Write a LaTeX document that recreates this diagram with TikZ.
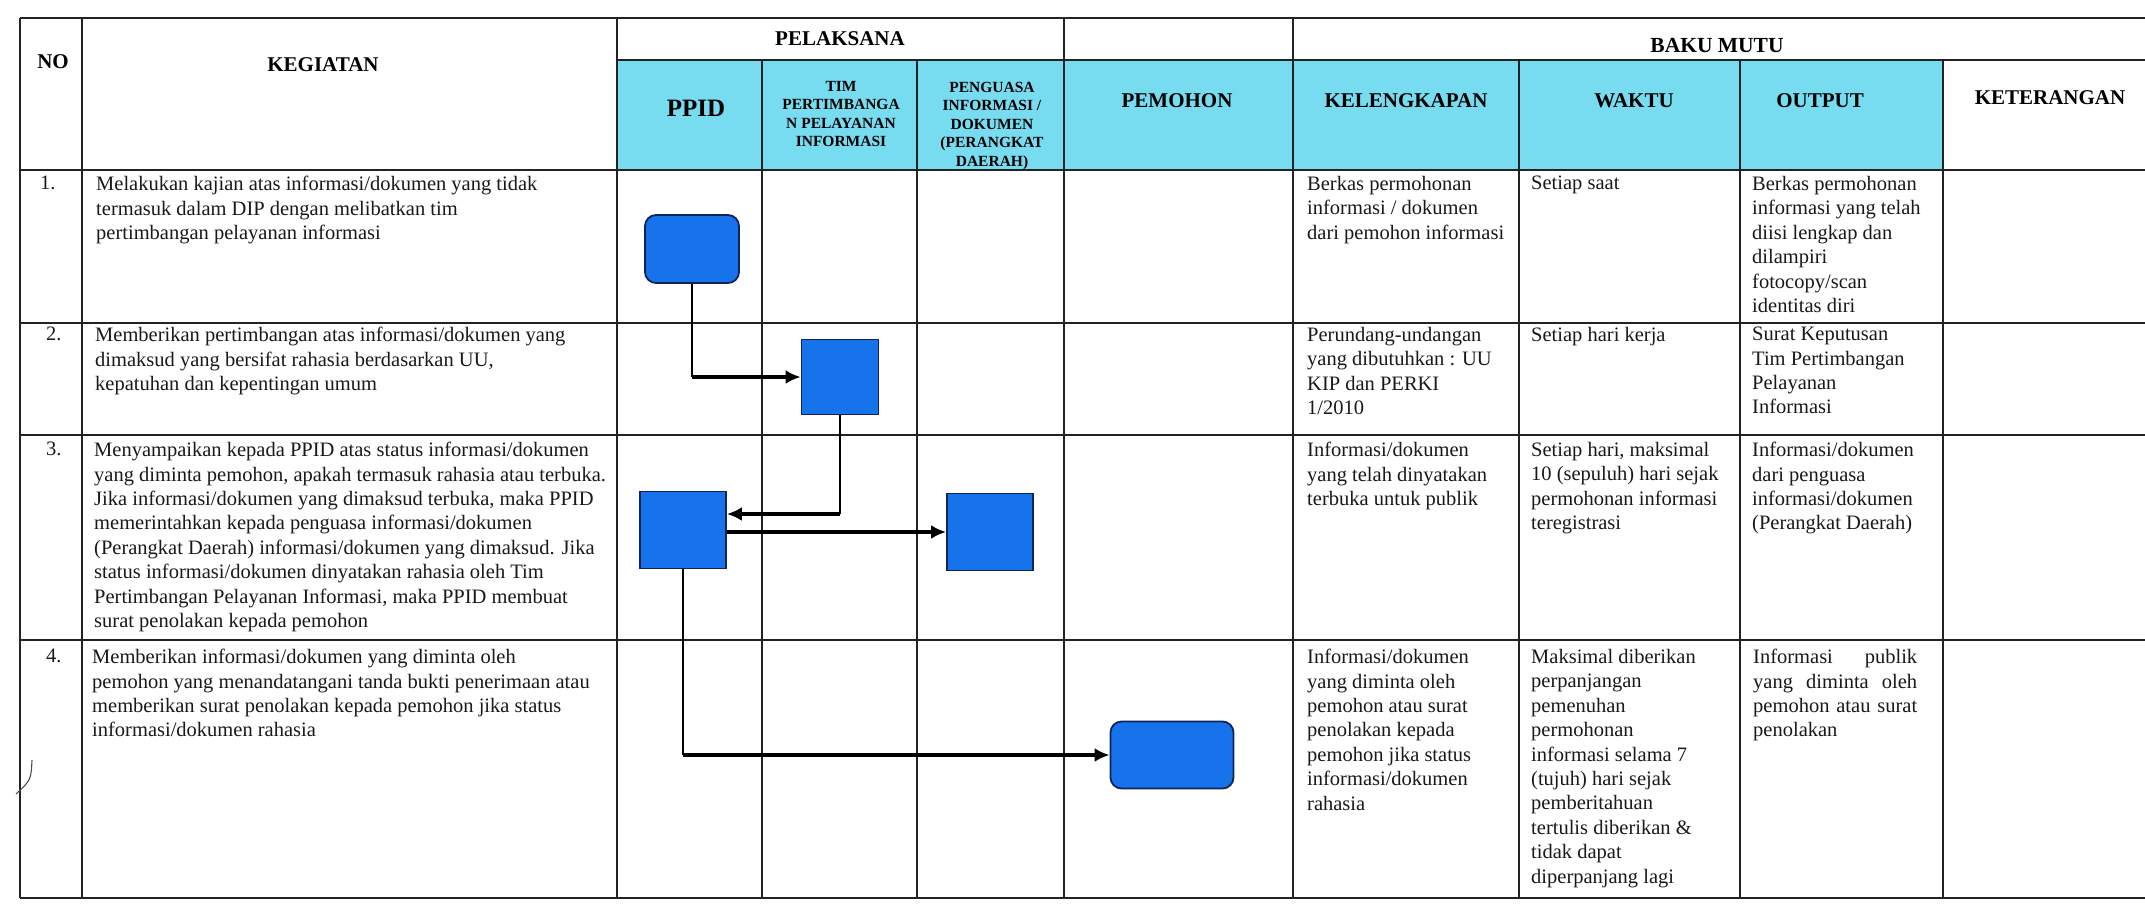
\documentclass[tikz,border=0pt]{standalone}
\usepackage{fontspec}
\setmainfont{Liberation Serif}
\usetikzlibrary{arrows.meta,calc,positioning}

\definecolor{hdrcyan}{RGB}{120,220,240}
\definecolor{boxblue}{RGB}{22,115,235}
\definecolor{boxedge}{RGB}{16,36,88}
\definecolor{rulegray}{RGB}{35,35,35}

\tikzset{
  tblline/.style={line width=1.6pt, draw=rulegray},
  act/.style={draw=boxedge, line width=1.8pt, fill=boxblue, inner sep=0pt},
  actround/.style={act, rounded corners=11pt},
  flowthin/.style={line width=1.4pt},
  flowthick/.style={line width=3.4pt, -{Latex[length=15pt,width=14pt]}},
  body/.style={anchor=north west, inner sep=0pt, align=left, text=black!90,
    font=\fontsize{20.5}{24.4}\selectfont},
  hdr/.style={inner sep=0pt, font=\bfseries\fontsize{21}{24}\selectfont},
  hdrsmall/.style={inner sep=0pt, align=center, font=\bfseries\fontsize{15.5}{18.5}\selectfont},
}

\begin{document}
\begin{tikzpicture}[x=1pt,y=-1pt,>=Stealth]
  \useasboundingbox (0,0) rectangle (2145,903);
  % header fill
  \fill[hdrcyan] (617,60) rectangle (1943,170);
  % table rules
  \draw[tblline, line width=2pt] (20,18) -- (2145,18);
  \draw[tblline, line width=2pt] (617,60) -- (2145,60);
  \foreach \y in {170,323,435,640,898}
    \draw[tblline, line width=2pt] (20,\y) -- (2145,\y);
  \foreach \x in {20,82,617,1064,1293}
    \draw[tblline] (\x,18) -- (\x,898);
  \foreach \x in {762,917,1519,1740,1943}
    \draw[tblline] (\x,60) -- (\x,898);
  % scan mark on the left edge
  \draw[line width=1.1pt, black!70] (32,760) .. controls (31,780) .. (16,794);

  % headers
  \node[hdr] (hno) at (53,62) {NO};
  \node[hdr] (hkeg) at (323,65) {KEGIATAN};
  \node[hdr] (hpel) at (840,39) {PELAKSANA};
  \node[hdr, font=\bfseries\fontsize{21.5}{24}\selectfont] (hbaku) at (1717,45) {BAKU MUTU};
  \node[hdr, font=\bfseries\fontsize{25}{28}\selectfont] (hppid) at (696,108) {PPID};
  \node[hdrsmall] (htim) at (841,114) {TIM\\PERTIMBANGA\\N PELAYANAN\\INFORMASI};
  \node[hdrsmall] (hpeng) at (992,126) {PENGUASA\\INFORMASI /\\DOKUMEN\\(PERANGKAT\\DAERAH)};
  \node[hdr] (hpem) at (1177,101) {PEMOHON};
  \node[hdr] (hkel) at (1406,101) {KELENGKAPAN};
  \node[hdr] (hwak) at (1634,101) {WAKTU};
  \node[hdr] (hout) at (1820,101) {OUTPUT};
  \node[hdr] (hket) at (2050,98) {KETERANGAN};

  % row 1
  \node[body] (no1) at (40,176) {1.};
  \node[body] (keg1) at (96,176) {Melakukan kajian atas informasi/dokumen yang tidak\\termasuk dalam DIP dengan melibatkan tim\\pertimbangan pelayanan informasi};
  \node[body] (kel1) at (1307,176) {Berkas permohonan\\informasi / dokumen\\dari pemohon informasi};
  \node[body] (wak1) at (1531,176) {Setiap saat};
  \node[body] (out1) at (1752,176) {Berkas permohonan\\informasi yang telah\\diisi lengkap dan\\dilampiri\\fotocopy/scan\\identitas diri};
  % row 2
  \node[body] (no2) at (46,327) {2.};
  \node[body] (keg2) at (95,327) {Memberikan pertimbangan atas informasi/dokumen yang\\dimaksud yang bersifat rahasia berdasarkan UU,\\kepatuhan dan kepentingan umum};
  \node[body] (kel2) at (1307,327) {Perundang-undangan\\yang dibutuhkan : UU\\KIP dan PERKI\\1/2010};
  \node[body] (wak2) at (1531,327) {Setiap hari kerja};
  \node[body] (out2) at (1752,327) {Surat Keputusan\\Tim Pertimbangan\\Pelayanan\\Informasi};
  % row 3
  \node[body] (no3) at (46,442) {3.};
  \node[body] (keg3) at (94,442) {Menyampaikan kepada PPID atas status informasi/dokumen\\yang diminta pemohon, apakah termasuk rahasia atau terbuka.\\Jika informasi/dokumen yang dimaksud terbuka, maka PPID\\memerintahkan kepada penguasa informasi/dokumen\\(Perangkat Daerah) informasi/dokumen yang dimaksud. Jika\\status informasi/dokumen dinyatakan rahasia oleh Tim\\Pertimbangan Pelayanan Informasi, maka PPID membuat\\surat penolakan kepada pemohon};
  \node[body] (kel3) at (1307,442) {Informasi/dokumen\\yang telah dinyatakan\\terbuka untuk publik};
  \node[body] (wak3) at (1531,442) {Setiap hari, maksimal\\10 (sepuluh) hari sejak\\permohonan informasi\\teregistrasi};
  \node[body] (out3) at (1752,442) {Informasi/dokumen\\dari penguasa\\informasi/dokumen\\(Perangkat Daerah)};
  % row 4
  \node[body] (no4) at (46,649) {4.};
  \node[body] (keg4) at (92,649) {Memberikan informasi/dokumen yang diminta oleh\\pemohon yang menandatangani tanda bukti penerimaan atau\\memberikan surat penolakan kepada pemohon jika status\\informasi/dokumen rahasia};
  \node[body] (kel4) at (1307,649) {Informasi/dokumen\\yang diminta oleh\\pemohon atau surat\\penolakan kepada\\pemohon jika status\\informasi/dokumen\\rahasia};
  \node[body] (wak4) at (1531,649) {Maksimal diberikan\\perpanjangan\\pemenuhan\\permohonan\\informasi selama 7\\(tujuh) hari sejak\\pemberitahuan\\tertulis diberikan \&\\tidak dapat\\diperpanjang lagi};
  \node[body, text width=164pt] (out4) at (1753,649) {Informasi\hfill publik\\yang\hfill diminta\hfill oleh\\pemohon\hfill atau\hfill surat\\penolakan};

  % process boxes
  \node[actround, minimum width=94pt, minimum height=68pt] (ppid1) at (692,249) {};
  \node[act, minimum width=77pt, minimum height=75pt] (tim2) at (840,377) {};
  \node[act, minimum width=86pt, minimum height=77pt] (ppid3) at (683,530) {};
  \node[act, minimum width=86pt, minimum height=77pt] (peng3) at (990,532) {};
  \node[actround, minimum width=123pt, minimum height=67pt] (pem4) at (1172,755) {};

  % PPID to tim
  \coordinate (k1) at (ppid1.south |- tim2.west);
  \draw[flowthin] (ppid1.south) -- (k1);
  \draw[flowthick] (k1) -- (tim2.west);
  % tim back to PPID
  \coordinate (k2) at ($(ppid3.east)+(0,-16)$);
  \coordinate (k3) at (tim2.south |- k2);
  \draw[flowthin] (tim2.south) -- (k3);
  \draw[flowthick] (k3) -- (k2);
  % PPID to penguasa
  \draw[flowthick] (ppid3.east |- peng3.west) -- (peng3.west);
  % PPID to pemohon
  \coordinate (k4) at (ppid3.south |- pem4.west);
  \draw[flowthin] (ppid3.south) -- (k4);
  \draw[flowthick] (k4) -- (pem4.west);
\end{tikzpicture}
\end{document}
